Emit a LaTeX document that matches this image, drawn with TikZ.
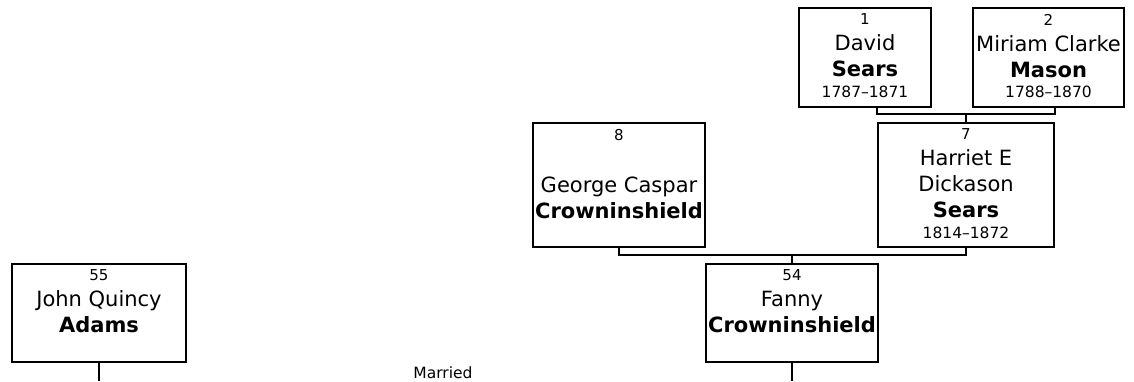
\documentclass[tikz,border=0pt]{standalone}
\usepackage{fontspec}
\setmainfont{DejaVu Sans}
\usetikzlibrary{calc}
\newcommand{\numsz}{\fontsize{15}{18}\selectfont}
\newcommand{\namesz}{\fontsize{21}{26}\selectfont}
\newcommand{\lifesz}{\fontsize{15.5}{20.5}\selectfont}
\newcommand{\card}[3]{\begin{minipage}[t][#2][t]{#1}\centering\vspace*{6pt}#3\end{minipage}}
\newcommand{\idx}[1]{{\numsz #1\par}}
\newcommand{\given}[1]{{\namesz #1\par}}
\newcommand{\surname}[1]{{\namesz\bfseries #1\par}}
\newcommand{\life}[1]{{\lifesz #1\par}}

\begin{document}
\begin{tikzpicture}[x=1pt, y=-1pt,
    person/.style={draw, line width=2pt, inner sep=0pt, anchor=north west},
    link/.style={line width=2pt}]
    \useasboundingbox (0,0) rectangle (1134,381);

    \node[person] (p1) at (798,7) {\card{132pt}{99pt}{\idx{1}\given{David}\surname{Sears}\life{1787--1871}}};
    \node[person] (p2) at (972,7) {\card{151pt}{99pt}{\idx{2}\given{Miriam Clarke}\surname{Mason}\life{1788--1870}}};
    \node[person] (p7) at (877,122) {\card{176pt}{124pt}{\idx{7}\given{Harriet E}\given{Dickason}\surname{Sears}\life{1814--1872}}};
    \node[person] (p8) at (532,122) {\card{172pt}{124pt}{\idx{8}\given{\strut}\given{George Caspar}\surname{Crowninshield}}};
    \node[person] (p54) at (705,263) {\card{172pt}{98pt}{\idx{54}\given{Fanny}\surname{Crowninshield}}};
    \node[person] (p55) at (11,263) {\card{174pt}{98pt}{\idx{55}\given{John Quincy}\surname{Adams}}};

    \node (wed) at (443,373) {\lifesz Married};

    % parents of 7
    \coordinate (b1) at ($(p7.north)+(0,-8)$);
    \draw[link] (p1.south -| p7.west) |- (b1) -| (p2.south -| p7.east);
    \draw[link] (b1) -- (p7.north);

    % parents of 54
    \coordinate (b2) at ($(p54.north)+(0,-8)$);
    \draw[link] (p8.south) |- (b2) -| (p7.south);
    \draw[link] (b2) -- (p54.north);

    \coordinate (e54) at (p54.south |- 0,381);
    \coordinate (e55) at (p55.south |- 0,381);
    \draw[link] (p54.south) -- (e54);
    \draw[link] (p55.south) -- (e55);
\end{tikzpicture}
\end{document}
